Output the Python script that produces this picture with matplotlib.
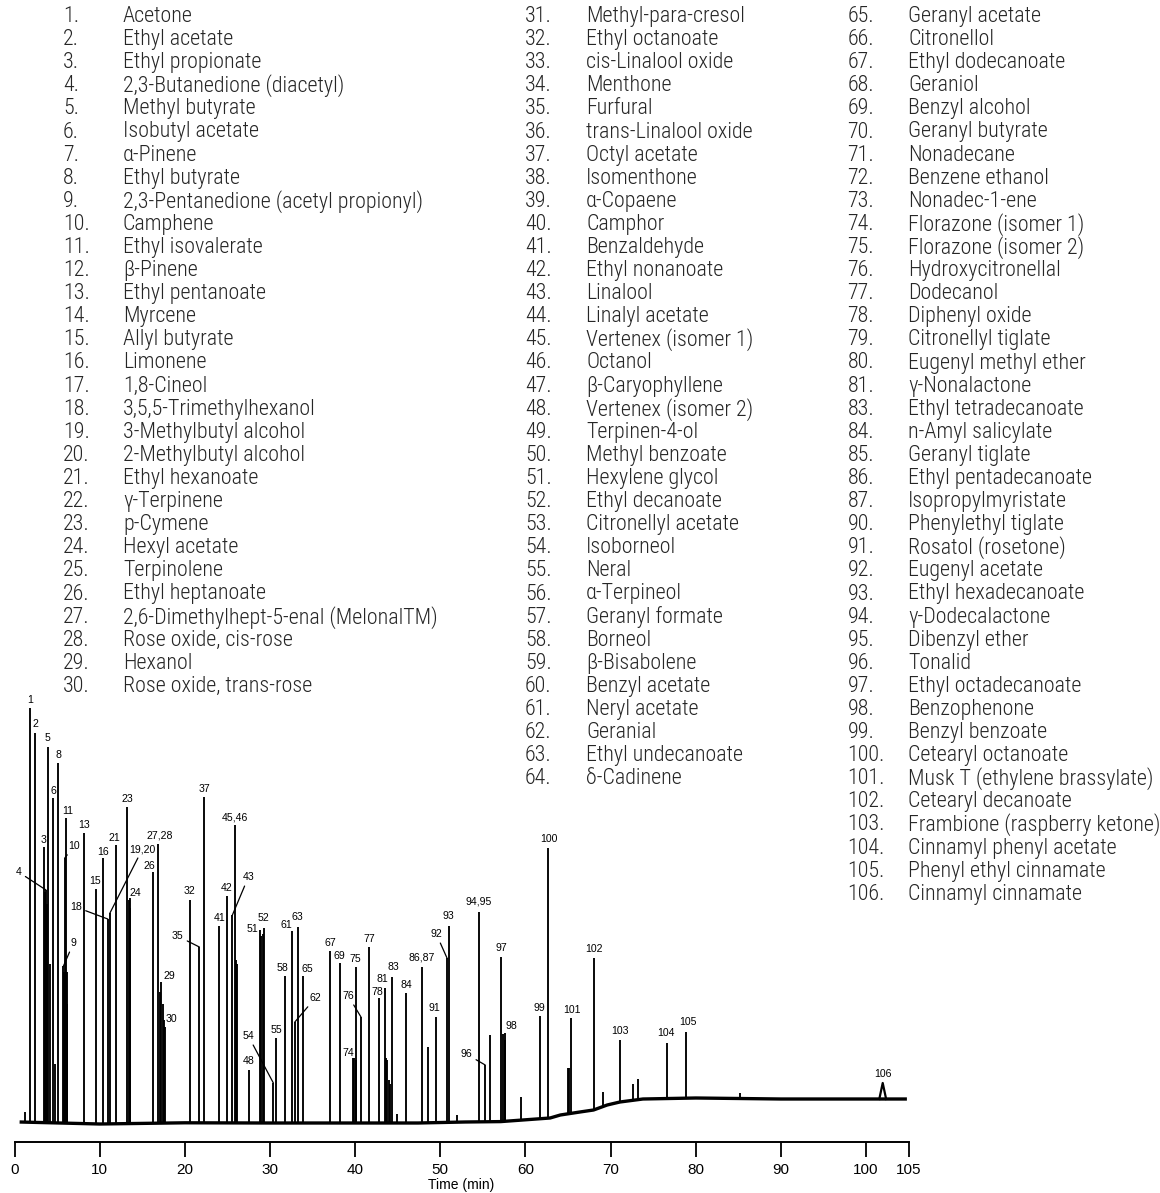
import numpy as np
import matplotlib
matplotlib.use("Agg")
import matplotlib.pyplot as plt
from matplotlib import font_manager

# compound key, three columns
col1_ids = list(range(1, 31))
col1_names = ["Acetone", "Ethyl acetate", "Ethyl propionate", "2,3-Butanedione (diacetyl)",
              "Methyl butyrate", "Isobutyl acetate", "α-Pinene", "Ethyl butyrate",
              "2,3-Pentanedione (acetyl propionyl)", "Camphene", "Ethyl isovalerate", "β-Pinene",
              "Ethyl pentanoate", "Myrcene", "Allyl butyrate", "Limonene", "1,8-Cineol",
              "3,5,5-Trimethylhexanol", "3-Methylbutyl alcohol", "2-Methylbutyl alcohol",
              "Ethyl hexanoate", "γ-Terpinene", "p-Cymene", "Hexyl acetate", "Terpinolene",
              "Ethyl heptanoate", "2,6-Dimethylhept-5-enal (MelonalTM)", "Rose oxide, cis-rose",
              "Hexanol", "Rose oxide, trans-rose"]
col2_ids = list(range(31, 65))
col2_names = ["Methyl-para-cresol", "Ethyl octanoate", "cis-Linalool oxide", "Menthone",
              "Furfural", "trans-Linalool oxide", "Octyl acetate", "Isomenthone", "α-Copaene",
              "Camphor", "Benzaldehyde", "Ethyl nonanoate", "Linalool", "Linalyl acetate",
              "Vertenex (isomer 1)", "Octanol", "β-Caryophyllene", "Vertenex (isomer 2)",
              "Terpinen-4-ol", "Methyl benzoate", "Hexylene glycol", "Ethyl decanoate",
              "Citronellyl acetate", "Isoborneol", "Neral", "α-Terpineol", "Geranyl formate",
              "Borneol", "β-Bisabolene", "Benzyl acetate", "Neryl acetate", "Geranial",
              "Ethyl undecanoate", "δ-Cadinene"]
col3_ids = list(range(65, 82)) + list(range(83, 88)) + list(range(90, 107))
col3_names = ["Geranyl acetate", "Citronellol", "Ethyl dodecanoate", "Geraniol", "Benzyl alcohol",
              "Geranyl butyrate", "Nonadecane", "Benzene ethanol", "Nonadec-1-ene",
              "Florazone (isomer 1)", "Florazone (isomer 2)", "Hydroxycitronellal", "Dodecanol",
              "Diphenyl oxide", "Citronellyl tiglate", "Eugenyl methyl ether", "γ-Nonalactone",
              "Ethyl tetradecanoate", "n-Amyl salicylate", "Geranyl tiglate",
              "Ethyl pentadecanoate", "Isopropylmyristate", "Phenylethyl tiglate",
              "Rosatol (rosetone)", "Eugenyl acetate", "Ethyl hexadecanoate", "γ-Dodecalactone",
              "Dibenzyl ether", "Tonalid", "Ethyl octadecanoate", "Benzophenone",
              "Benzyl benzoate", "Cetearyl octanoate", "Musk T (ethylene brassylate)",
              "Cetearyl decanoate", "Frambione (raspberry ketone)", "Cinnamyl phenyl acetate",
              "Phenyl ethyl cinnamate", "Cinnamyl cinnamate"]

# labelled peaks: retention time (min) and apex response
peak_labels = ["1", "2", "3", "4", "5", "6", "8", "9", "10", "11", "13", "15", "16", "18",
               "19,20", "21", "23", "24", "26", "27,28", "29", "30", "32", "35", "37", "41",
               "42", "43", "45,46", "48", "51", "52", "54", "55", "58", "61", "62", "63", "65",
               "67", "69", "74", "75", "76", "77", "78", "81", "83", "84", "86,87", "91", "92",
               "93", "94,95", "96", "97", "98", "99", "100", "101", "102", "103", "104", "105",
               "106"]
peak_times = [1.80, 2.43, 3.52, 3.70, 3.91, 4.54, 5.13, 5.75, 5.90, 6.04, 8.18, 9.62, 10.36,
              10.95, 11.21, 11.97, 13.23, 13.53, 16.28, 16.90, 17.25, 17.69, 20.66, 21.71,
              22.30, 24.06, 24.96, 25.59, 25.86, 27.55, 28.87, 29.26, 30.40, 30.75, 31.73,
              32.63, 32.92, 33.25, 33.84, 37.09, 38.26, 39.91, 40.06, 40.69, 41.63, 42.84,
              43.46, 44.37, 46.01, 47.83, 49.45, 50.79, 51.00, 54.50, 55.28, 57.12, 57.55,
              61.77, 62.71, 65.34, 68.04, 71.16, 76.61, 78.91, 101.96]
peak_levels = [104.0, 97.75, 69.25, 58.5, 94.25, 81.5, 90.25, 39.5, 66.5, 76.5, 72.75, 58.75,
               66.5, 51.25, 52.75, 69.75, 79.25, 56.5, 63.0, 70.0, 35.5, 24.25, 56.0, 44.25,
               81.75, 49.5, 57.0, 52.25, 74.75, 13.5, 48.5, 49.0, 10.25, 21.5, 37.0, 48.25,
               25.5, 49.25, 37.0, 43.25, 40.25, 16.5, 39.25, 26.75, 44.25, 31.5, 34.0, 36.75,
               32.75, 39.25, 26.75, 41.5, 49.5, 53.0, 14.75, 41.75, 22.75, 27.0, 69.0, 26.5,
               41.5, 21.0, 20.25, 23.0, 10.25]

# unlabelled peaks and co-eluting shoulders
minor_times = [1.23, 3.62, 3.80, 4.14, 4.73, 5.82, 6.12, 6.20, 13.45, 13.62, 17.08, 17.40,
               17.55, 25.98, 26.12, 29.00, 29.13, 39.78, 40.15, 43.62, 43.80, 43.95, 44.10,
               44.95, 48.54, 51.96, 55.87, 57.35, 57.65, 59.51, 64.98, 65.15, 69.07, 72.59,
               73.27, 85.21]
minor_levels = [3.0, 58.0, 55.0, 40.0, 15.0, 38.0, 38.0, 30.0, 56.0, 54.0, 33.0, 30.0, 26.0,
                41.0, 40.0, 47.0, 47.5, 16.5, 16.0, 16.5, 16.0, 11.0, 10.0, 2.5, 19.25, 2.25,
                22.25, 22.5, 21.0, 6.75, 14.0, 14.0, 8.0, 10.0, 11.25, 7.75]

# baseline drift
base_times = [0.6, 10, 20, 30, 40, 47.4, 52.9, 57.1, 62.9, 64.1, 66.4, 68.0, 69.6, 71.1,
              73.8, 80, 90, 104.8]
base_levels = [0.5, 0.0, 0.3, 0.25, 0.25, 0.25, 0.5, 0.6, 1.5, 2.25, 3.0, 3.5, 4.75, 5.5,
               6.25, 6.5, 6.25, 6.25]

x_ticks = [0, 10, 20, 30, 40, 50, 60, 70, 80, 90, 100, 105]

# label offsets in pixels (dx, dy) and which get a leader line
offsets = {"2": (0, 9), "3": (-1, 7), "4": (-27.5, 18), "5": (0, 9), "6": (0, 7),
           "9": (10, 23), "10": (9.7, 12), "11": (1.5, 7), "15": (-1, 8), "16": (0, 6),
           "18": (-32, 12), "19,20": (32.5, 64), "21": (-2, 7), "24": (6, 5), "26": (-4, 6),
           "27,28": (1, 8), "29": (8, 6), "30": (6, 8), "32": (-1, 9), "35": (-22, 11),
           "43": (16, 38), "48": (0, 9), "51": (-8, 1), "52": (0, 10), "54": (-25, 47),
           "58": (-2, 8), "61": (-5.5, 6), "62": (20.5, 24), "63": (0, 10), "65": (5, 7),
           "69": (-1, 7), "74": (-6, 5), "76": (-12.7, 21), "78": (-2, 6), "81": (-2, 9),
           "83": (1, 10), "86,87": (0, 9), "91": (-1, 9), "92": (-10.7, 24), "93": (0, 10),
           "94,95": (0, 10), "96": (-19, 11), "97": (0, 9), "98": (7, 7), "99": (-1, 8),
           "100": (0, 9), "101": (1, 8), "102": (0, 9), "103": (0, 9), "104": (-1, 10),
           "105": (1.4, 10), "106": (0, 9)}
leaders = {"4", "9", "10", "18", "19,20", "35", "43", "54", "62", "76", "92", "96"}

fig = plt.figure(figsize=(11.6, 11.93), dpi=100)

# pick a narrow face for the key if there is one, then size it so the
# longest first-column entry is ~318 px wide
installed = {f.name for f in font_manager.fontManager.ttflist}
key_family = "Liberation Sans"
for cand in ["Liberation Sans Narrow", "Roboto Condensed", "Open Sans Condensed"]:
    if cand in installed:
        key_family = cand
        break
key_font = [key_family, "DejaVu Sans"]
probe = fig.text(0, 0, "2,6-Dimethylhept-5-enal (MelonalTM)", family=key_font,
                 fontsize=15, weight="light")
fig.canvas.draw()
probe_w = probe.get_window_extent().width
probe.remove()
key_size = min(15 * 316 / probe_w, 16)

row_h = 23.1
columns = [(col1_ids, col1_names, 63, 123), (col2_ids, col2_names, 525, 586),
           (col3_ids, col3_names, 847.5, 908)]
for ids, names, xn, xt in columns:
    for i, (n, name) in enumerate(zip(ids, names)):
        y = 1 - (16.5 + i * row_h) / 1193
        fig.text(xn / 1160, y, f"{n}.", family=key_font, fontsize=key_size, weight="light",
                 color="#262626", va="center", ha="left")
        fig.text(xt / 1160, y, name, family=key_font, fontsize=key_size, weight="light",
                 color="#262626", va="center", ha="left")

ax = fig.add_axes([14.5 / 1160, (1193 - 1142) / 1193, (908.6 - 14.5) / 1160, 452 / 1193])
ax.patch.set_visible(False)
ax.set_xlim(0, 105)
ax.set_ylim(-4.5, 108.5)

bt = np.array(base_times)
bl = np.array(base_levels)

# sharp peaks (all except the broad last one)
all_t = np.array(peak_times[:-1] + minor_times)
all_y = np.array(peak_levels[:-1] + minor_levels)
bottoms = np.interp(all_t, bt, bl)
ax.vlines(all_t, bottoms, all_y, color="black", lw=1.35)

# broad late peak
t106, y106 = peak_times[-1], peak_levels[-1]
b106 = np.interp(t106, bt, bl)
ax.plot([t106 - 0.4, t106, t106 + 0.4], [b106, y106, b106], color="black", lw=1.6)

ax.plot(bt, bl, color="black", lw=2.4, solid_capstyle="butt")

for lab, t, lev in zip(peak_labels, peak_times, peak_levels):
    dx, dy = offsets.get(lab, (0, 8))
    arrow = None
    if lab in leaders:
        arrow = dict(arrowstyle="-", lw=0.9, color="black", shrinkA=1, shrinkB=0)
    ax.annotate(lab, xy=(t, lev), xytext=(dx, dy), textcoords="offset pixels",
                ha="center", va="center", fontsize=7.6, family="Liberation Sans",
                color="black", arrowprops=arrow)

for s in ["left", "right", "top"]:
    ax.spines[s].set_visible(False)
ax.spines["bottom"].set_linewidth(1.4)
ax.set_yticks([])
ax.set_xticks(x_ticks)
ax.set_xticklabels([str(v) for v in x_ticks], family="Liberation Sans", fontsize=11)
ax.tick_params(axis="x", direction="out", length=11, width=1.3, pad=4)
ax.set_xlabel("Time (min)", family="Liberation Sans", fontsize=10, labelpad=1)

fig.savefig("out.png", dpi=100)
